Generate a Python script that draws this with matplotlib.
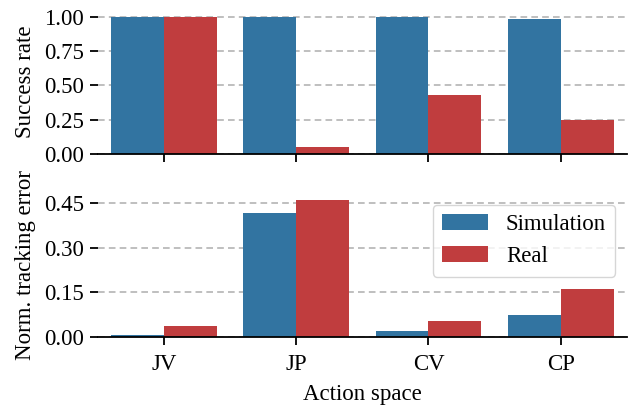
import numpy as np
import matplotlib
matplotlib.use("Agg")
import matplotlib.pyplot as plt

# data
action_spaces = ["JV", "JP", "CV", "CP"]
success_sim = [1.00, 1.00, 1.00, 0.985]
success_real = [1.00, 0.051, 0.43, 0.25]
error_sim = [0.005, 0.417, 0.021, 0.075]
error_real = [0.038, 0.461, 0.055, 0.162]
success_ticks = [0.0, 0.25, 0.5, 0.75, 1.0]
error_ticks = [0.0, 0.15, 0.30, 0.45]

plt.rcParams["font.family"] = ["Liberation Serif", "DejaVu Serif"]
fs = 16.5
plt.rcParams["font.size"] = fs

col_sim = "#3274a1"
col_real = "#c03d3e"
width = 0.4

fig = plt.figure(figsize=(6.28, 4.05), dpi=100)
ax1 = fig.add_axes([0.156, 0.620, 0.842, 0.355])
ax2 = fig.add_axes([0.156, 0.168, 0.842, 0.355])

x = np.arange(len(action_spaces))


def draw(ax, sim, real, ticks, ylabel):
    ax.bar(x - width / 2, sim, width, color=col_sim, label="Simulation", zorder=2)
    ax.bar(x + width / 2, real, width, color=col_real, label="Real", zorder=2)
    ax.set_xlim(-0.5, len(action_spaces) - 0.5)
    ax.set_yticks(ticks)
    ax.set_yticklabels([f"{t:.2f}" for t in ticks])
    ax.set_xticks(x)
    ax.yaxis.grid(True, linestyle=(0, (4, 2.5)), color="#b4b4b4", linewidth=1.2, zorder=0)
    ax.set_axisbelow(True)
    for s in ["top", "right", "left"]:
        ax.spines[s].set_visible(False)
    ax.spines["bottom"].set_linewidth(1.3)
    ax.tick_params(axis="both", length=6, width=1.3, labelsize=fs, pad=4)
    ax.tick_params(axis="x", pad=6)
    ax.set_ylabel(ylabel, fontsize=fs, labelpad=6)


draw(ax1, success_sim, success_real, success_ticks, "Success rate")
ax1.set_xticklabels([])
draw(ax2, error_sim, error_real, error_ticks, "Norm. tracking error")
ax2.set_xticklabels(action_spaces)
ax2.set_xlabel("Action space", fontsize=fs, labelpad=7)
ax2.legend(loc="upper right", fontsize=fs, frameon=True, fancybox=True,
           edgecolor="#cccccc", framealpha=0.8)

fig.align_ylabels([ax1, ax2])
fig.savefig("out.png", dpi=100)
